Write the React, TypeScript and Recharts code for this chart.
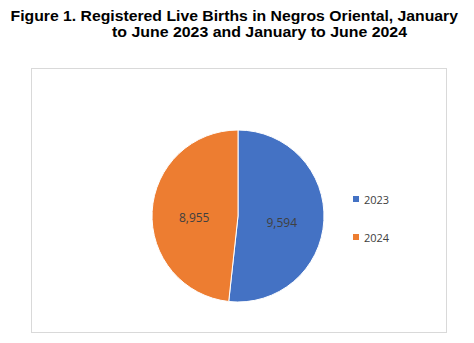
import React from 'react';
import { PieChart, Pie, Cell, Legend } from 'recharts';

const years = ['2023', '2024'];
const births = [9594, 8955];
const colors = ['#4472C4', '#ED7D31'];

const data = years.map((y, i) => ({ name: y, value: births[i] }));

const RAD = Math.PI / 180;

const renderLabel = (props: any) => {
  const { cx, cy, midAngle, outerRadius, value } = props;
  const r = outerRadius * 0.51;
  const x = cx + r * Math.cos(-midAngle * RAD);
  const y = cy + r * Math.sin(-midAngle * RAD) + 4;
  return (
    <text x={x} y={y} fill="#404040" fontSize={12} textAnchor="middle" dominantBaseline="central"
      fontFamily="'Open Sans', sans-serif">
      {value.toLocaleString('en-US')}
    </text>
  );
};

const LegendBox = (props: any) => {
  const items = props.payload || [];
  return (
    <div>
      {items.map((it: any, i: number) => (
        <div key={it.value} style={{ display: 'flex', alignItems: 'center', height: 14, marginBottom: i === 0 ? 24 : 0 }}>
          <span style={{ width: 6, height: 6, background: it.color, marginRight: 5 }} />
          <span style={{ fontSize: 11, color: '#404040', fontFamily: "'Open Sans', sans-serif" }}>{it.value}</span>
        </div>
      ))}
    </div>
  );
};

export default function App() {
  return (
    <div style={{ position: 'absolute', left: 0, top: 0, width: 474, height: 343, background: '#fff' }}>
      <svg width={474} height={50} style={{ position: 'absolute', left: 0, top: 0 }}>
        <text x={10.5} y={21} fontFamily="'Liberation Sans', Arial, sans-serif" fontWeight="bold" fontSize={15.5}
          textLength={447.5} lengthAdjust="spacingAndGlyphs" fill="#000">
          Figure 1. Registered Live Births in Negros Oriental, January
        </text>
        <text x={112} y={37} fontFamily="'Liberation Sans', Arial, sans-serif" fontWeight="bold" fontSize={15.5}
          textLength={295} lengthAdjust="spacingAndGlyphs" fill="#000">
          to June 2023 and January to June 2024
        </text>
      </svg>
      <div style={{ position: 'absolute', left: 31, top: 68, width: 414, height: 263, border: '1px solid #d9d9d9' }} />
      <div style={{ position: 'absolute', left: 0, top: 0 }}>
        <PieChart width={474} height={343} margin={{ top: 0, right: 0, bottom: 0, left: 0 }}>
          <Pie
            data={data}
            dataKey="value"
            nameKey="name"
            cx={238}
            cy={216}
            outerRadius={86}
            startAngle={90}
            endAngle={-270}
            stroke="#fff"
            strokeWidth={1}
            label={renderLabel}
            labelLine={false}
            isAnimationActive={false}
          >
            {data.map((d, i) => (
              <Cell key={d.name} fill={colors[i]} />
            ))}
          </Pie>
          <Legend
            layout="vertical"
            content={<LegendBox />}
            wrapperStyle={{ position: 'absolute', left: 353, top: 192, width: 60 }}
          />
        </PieChart>
      </div>
    </div>
  );
}
